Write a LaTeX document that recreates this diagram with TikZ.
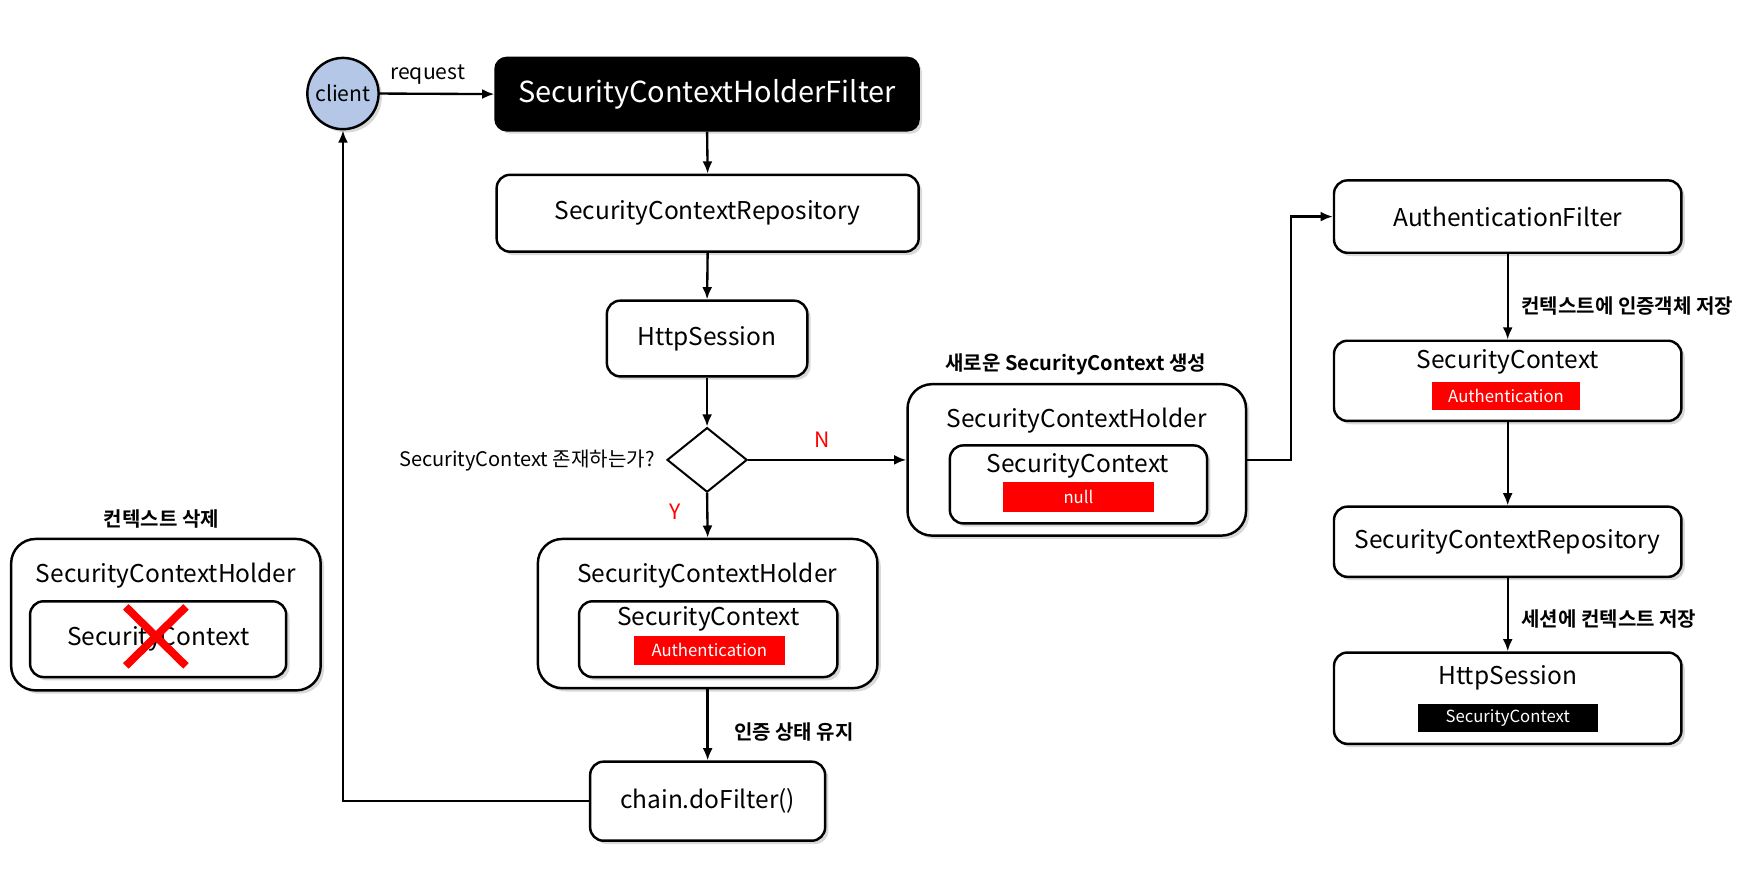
\documentclass[tikz,border=0pt]{standalone}
\usepackage{fontspec}
\setmainfont{Noto Sans CJK KR}[BoldFont={Noto Sans CJK KR Bold}]
\usetikzlibrary{arrows.meta,shapes.geometric,shadows}
\definecolor{clientblue}{HTML}{B4C7E7}
\definecolor{myred}{HTML}{FF0000}
\begin{document}
\begin{tikzpicture}[x=1pt,y=-1pt,
  shad/.style={drop shadow={opacity=0.3,shadow xshift=3pt,shadow yshift=-3pt}},
  box/.style={draw=black,line width=2.2pt,rounded corners=12pt,fill=white,shad,inner sep=0pt,font=\fontsize{22}{26}\selectfont},
  bigbox/.style={box,rounded corners=22pt},
  ttl/.style={inner sep=0pt,font=\fontsize{22}{26}\selectfont},
  tag/.style={inner sep=0pt,text=white,font=\fontsize{15}{18}\selectfont},
  redtag/.style={tag,fill=myred},
  blacktag/.style={tag,fill=black},
  note/.style={inner sep=0pt,font=\bfseries\fontsize{18}{21}\selectfont},
  yn/.style={inner sep=0pt,text=myred,font=\fontsize{19}{21}\selectfont},
  arr/.style={draw=black,line width=2.1pt,-{Latex[length=11pt,width=9pt]}},
  ]
\useasboundingbox (0,0) rectangle (1568,782);
% client
\node[circle,draw=black,line width=2.2pt,fill=clientblue,shad,minimum size=64pt,inner sep=0pt,font=\fontsize{19}{21}\selectfont] (client) at (308,84) {client};
\node[inner sep=0pt,font=\fontsize{19}{21}\selectfont] (req) at (384,67) {request};
% main column
\node[box,fill=black,text=white,rounded corners=10pt,minimum width=380pt,minimum height=65pt,font=\fontsize{26}{30}\selectfont] (schf) at (635,84.5) {SecurityContextHolderFilter};
\node[box,minimum width=379pt,minimum height=69pt] (scr1) at (635.5,191.5) {SecurityContextRepository};
\node[box,minimum width=180pt,minimum height=68pt] (hs1) at (635,304) {HttpSession};
\node[diamond,draw=black,line width=1.8pt,fill=white,minimum width=72pt,minimum height=58pt,inner sep=0pt] (dia) at (635,413) {};
\node[inner sep=0pt,anchor=east,font=\fontsize{18}{21}\selectfont] (q) at (588,414) {SecurityContext 존재하는가?};
\node[yn] (nlab) at (738,395) {N};
\node[yn] (ylab) at (606,460) {Y};
% Y holder
\node[bigbox,minimum width=305pt,minimum height=134pt] (schy) at (635.5,551) {};
\node[ttl] (schyt) at (635,517) {SecurityContextHolder};
\node[box,minimum width=232pt,minimum height=68pt] (scy) at (636,574) {};
\node[ttl] (scyt) at (636,556) {SecurityContext};
\node[redtag,minimum width=136pt,minimum height=26pt] (authy) at (637,584) {Authentication};
\node[note,anchor=west] (keep) at (659,657) {인증 상태 유지};
\node[box,minimum width=211pt,minimum height=71pt] (chain) at (635.5,719.5) {chain.doFilter()};
% left holder
\node[bigbox,minimum width=278pt,minimum height=136pt] (schl) at (149,552) {};
\node[ttl] (schlt) at (149,517) {SecurityContextHolder};
\node[box,minimum width=230pt,minimum height=68pt] (scl) at (142,574) {SecurityContext};
\draw[myred,line width=7pt] (113,545) -- (167,598) (167,545) -- (113,598);
\node[note] (del) at (145,466) {컨텍스트 삭제};
% N holder
\node[bigbox,minimum width=304pt,minimum height=136pt] (schn) at (967,413) {};
\node[ttl] (schnt) at (967,378) {SecurityContextHolder};
\node[box,minimum width=231pt,minimum height=70pt] (scn) at (968.5,435) {};
\node[ttl] (scnt) at (968,418) {SecurityContext};
\node[redtag,minimum width=135pt,minimum height=27pt] (null) at (968.5,446.5) {null};
\node[note] (newl) at (966,327) {새로운 SecurityContext 생성};
% right column
\node[box,minimum width=312pt,minimum height=65pt] (af) at (1354,194.5) {AuthenticationFilter};
\node[note,anchor=west] (savea) at (1366,275) {컨텍스트에 인증객체 저장};
\node[box,minimum width=312pt,minimum height=72pt] (scr) at (1354,342) {};
\node[ttl] (scrt) at (1354,325) {SecurityContext};
\node[redtag,minimum width=133pt,minimum height=25pt] (authr) at (1352.5,355.5) {Authentication};
\node[box,minimum width=312pt,minimum height=63pt] (scr2) at (1354,486.5) {SecurityContextRepository};
\node[note,anchor=west] (saves) at (1366,556) {세션에 컨텍스트 저장};
\node[box,minimum width=312pt,minimum height=82pt] (hs2) at (1354,627) {};
\node[ttl] (hs2t) at (1354,609) {HttpSession};
\node[blacktag,minimum width=162pt,minimum height=25pt] (hsctx) at (1354,644.5) {SecurityContext};
% connectors
\draw[arr] (client.east) -- (schf.west);
\draw[arr] (schf.south) -- (scr1.north);
\draw[arr] (scr1.south) -- (hs1.north);
\draw[arr] (hs1.south) -- (dia.north);
\draw[arr] (dia.east) -- (schn.west);
\draw[arr] (dia.south) -- (schy.north);
\draw[arr] (schy.south) -- (chain.north);
\draw[arr] (chain.west) -| (client.south);
\draw[arr] (schn.east) -- ++(39,0) |- (af.west);
\draw[arr] (af.south) -- (scr.north);
\draw[arr] (scr.south) -- (scr2.north);
\draw[arr] (scr2.south) -- (hs2.north);
\end{tikzpicture}
\end{document}
